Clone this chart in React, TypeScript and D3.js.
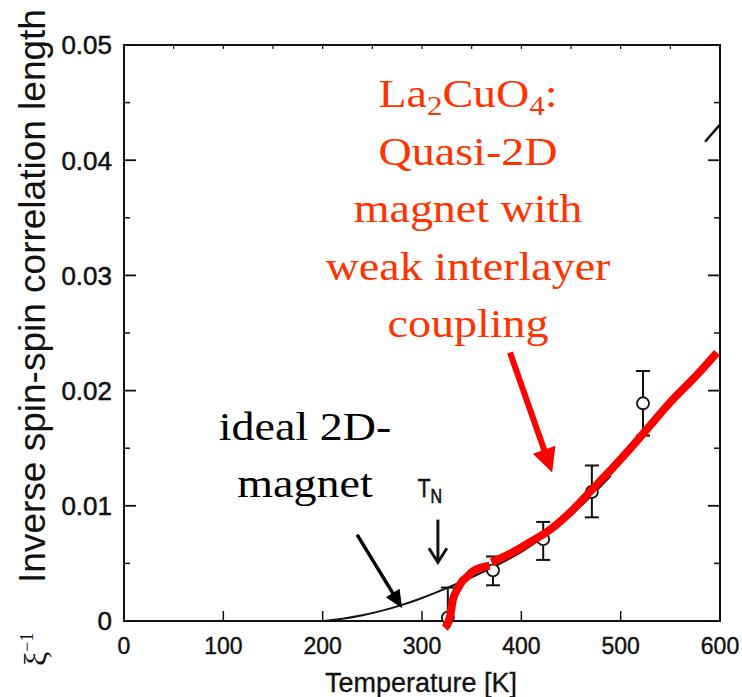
import React from "react";
import * as d3 from "d3";

// ---- data ----
const xTicks = [0, 100, 200, 300, 400, 500, 600];
const yTicks = [0, 0.01, 0.02, 0.03, 0.04, 0.05];
const yMinorTicks = [0.005, 0.015, 0.025, 0.035, 0.045];
const topTicks = [50, 100, 150, 200, 250, 300, 350, 400, 450, 500, 550];

const pointT = [326, 371.5, 422, 471, 522.5];
const pointV = [0.0003, 0.0044, 0.0071, 0.0112, 0.0189];
const errLow = [0.0, 0.0031, 0.0053, 0.009, 0.0161];
const errHigh = [0.0029, 0.0056, 0.0086, 0.0135, 0.0217];

const idealT = [200, 220, 240, 260, 280, 300, 326, 350, 372, 400, 422, 450, 472, 490];
const idealV = [0.0, 0.0002, 0.0005, 0.0009, 0.0014, 0.002, 0.0029, 0.0038, 0.0047, 0.006, 0.0073, 0.0092, 0.011, 0.0126];

const upperT = [585, 600];
const upperV = [0.0416, 0.0431];

const redT1 = [323, 328, 331, 336, 340, 345, 351, 358, 368];
const redV1 = [-0.0006, 0.0003, 0.0018, 0.0028, 0.0034, 0.0038, 0.0043, 0.0046, 0.0048];
const redT2 = [370, 390, 410, 430, 450, 470, 490, 510, 530, 550, 575, 597];
const redV2 = [0.0051, 0.0059, 0.0069, 0.008, 0.0095, 0.0113, 0.0131, 0.015, 0.017, 0.019, 0.0212, 0.0233];

const redLines = ["La", "Quasi-2D", "magnet with", "weak interlayer", "coupling"];
const blackLines = ["ideal 2D-", "magnet"];

export default function App() {
  const W = 742, H = 697;
  const x = d3.scaleLinear().domain([0, 600]).range([124, 720]);
  const y = d3.scaleLinear().domain([0, 0.05]).range([621, 45]);
  const line = d3
    .line<[number, number]>()
    .x((d) => x(d[0]))
    .y((d) => y(d[1]))
    .curve(d3.curveMonotoneX);
  const zip = (a: number[], b: number[]) => a.map((t, i) => [t, b[i]] as [number, number]);

  const arrowHead = (x1: number, y1: number, x2: number, y2: number, len: number, hw: number) => {
    const dx = x2 - x1, dy = y2 - y1;
    const L = Math.hypot(dx, dy);
    const ux = dx / L, uy = dy / L;
    const bx = x2 - ux * len, by = y2 - uy * len;
    return `${x2},${y2} ${bx - uy * hw},${by + ux * hw} ${bx + uy * hw},${by - ux * hw}`;
  };

  // annotation arrows in data space
  const ra = { x1: x(388.6), y1: y(0.0233), x2: x(431), y2: y(0.0129) };
  const ba = { x1: x(234.6), y1: y(0.0075), x2: x(280), y2: y(0.0011) };
  const tn = { x: x(316), y1: y(0.0088), y2: y(0.0051) };

  const shorten = (a: { x1: number; y1: number; x2: number; y2: number }, s: number) => {
    const dx = a.x2 - a.x1, dy = a.y2 - a.y1;
    const L = Math.hypot(dx, dy);
    return { x: a.x2 - (dx / L) * s, y: a.y2 - (dy / L) * s };
  };
  const raEnd = shorten(ra, 18);
  const baEnd = shorten(ba, 12);

  const left = x(0), right = x(600), top = y(0.05), bottom = y(0);
  const sans = "Liberation Sans, Arial, sans-serif";

  return (
    <svg width={W} height={H} style={{ display: "block", position: "absolute", left: 0, top: 0, background: "#fff" }}>
      <defs>
        <clipPath id="plot">
          <rect x={left} y={top} width={right - left} height={bottom - top + 12} />
        </clipPath>
      </defs>
      {/* frame */}
      <rect x={left} y={top} width={right - left} height={bottom - top} fill="none" stroke="#111" strokeWidth={2} />
      {/* y ticks */}
      {yTicks.map((t) => (
        <g key={"y" + t}>
          <line x1={left} x2={left + 12} y1={y(t)} y2={y(t)} stroke="#111" strokeWidth={1.8} />
          <line x1={right} x2={right - 12} y1={y(t)} y2={y(t)} stroke="#111" strokeWidth={1.8} />
          <text x={112} y={y(t)} dy="0.36em" textAnchor="end" fontFamily={sans} fontSize={26} fill="#111" stroke="#111" strokeWidth={0.5}>
            {t === 0 ? "0" : t.toFixed(2)}
          </text>
        </g>
      ))}
      {yMinorTicks.map((t) => (
        <g key={"ym" + t}>
          <line x1={left} x2={left + 6} y1={y(t)} y2={y(t)} stroke="#111" strokeWidth={1.5} />
          <line x1={right} x2={right - 6} y1={y(t)} y2={y(t)} stroke="#111" strokeWidth={1.5} />
        </g>
      ))}
      {/* x ticks */}
      {xTicks.map((t) => (
        <g key={"x" + t}>
          <line x1={x(t)} x2={x(t)} y1={bottom} y2={bottom - 10} stroke="#111" strokeWidth={1.5} />
          <text x={x(t)} y={654} textAnchor="middle" fontFamily={sans} fontSize={23} fill="#111" stroke="#111" strokeWidth={0.4}>
            {t}
          </text>
        </g>
      ))}
      {topTicks.map((t) => (
        <line key={"tt" + t} x1={x(t)} x2={x(t)} y1={top} y2={top + 4} stroke="#111" strokeWidth={1.2} />
      ))}
      <text x={421} y={692} textAnchor="middle" fontFamily={sans} fontSize={27} fill="#111" stroke="#111" strokeWidth={0.3}>
        Temperature [K]
      </text>
      {/* y title */}
      <text
        transform={`translate(45,296) rotate(-90)`}
        textAnchor="middle"
        fontFamily={sans}
        fontSize={37}
        fill="#111"
      >
        Inverse spin-spin correlation length
      </text>
      <text transform={`translate(46,666) rotate(-90)`} fontFamily="Liberation Serif, Times New Roman, serif" fontSize={32} fill="#111">
        ξ<tspan fontSize={18} dy={-13}>−1</tspan>
      </text>

      <g clipPath="url(#plot)">
        {/* ideal 2D curve */}
        <path d={line(zip(idealT, idealV)) || ""} fill="none" stroke="#111" strokeWidth={2} />
        <path d={line(zip(upperT, upperV)) || ""} fill="none" stroke="#111" strokeWidth={2.5} />
        {/* data points */}
        {pointT.map((t, i) => (
          <g key={"p" + i}>
            <line x1={x(t)} x2={x(t)} y1={y(errLow[i])} y2={y(errHigh[i])} stroke="#111" strokeWidth={2} />
            <line x1={x(t) - 7} x2={x(t) + 7} y1={y(errHigh[i])} y2={y(errHigh[i])} stroke="#111" strokeWidth={2} />
            {i > 0 && <line x1={x(t) - 7} x2={x(t) + 7} y1={y(errLow[i])} y2={y(errLow[i])} stroke="#111" strokeWidth={2} />}
            <circle cx={x(t)} cy={y(pointV[i])} r={6} fill="#fff" stroke="#111" strokeWidth={1.8} />
          </g>
        ))}
      </g>
      {/* red curves */}
      <path d={line(zip(redT1, redV1)) || ""} fill="none" stroke="#ff0000" strokeWidth={8} />
      <path d={line(zip(redT2, redV2)) || ""} fill="none" stroke="#ff0000" strokeWidth={8} />

      {/* TN arrow */}
      <g transform={`translate(${tn.x - 8},497) scale(0.8,1)`}>
        <text textAnchor="middle" fontFamily={sans} fontSize={26} fill="#111" stroke="#111" strokeWidth={0.6}>
          T<tspan fontSize={20} dy={6}>N</tspan>
        </text>
      </g>
      <line x1={tn.x} x2={tn.x} y1={tn.y1} y2={tn.y2} stroke="#111" strokeWidth={3} />
      <polyline points={`${tn.x - 9},${tn.y2 - 14} ${tn.x},${tn.y2} ${tn.x + 9},${tn.y2 - 14}`} fill="none" stroke="#111" strokeWidth={3} />

      {/* black annotation */}
      <line x1={ba.x1} y1={ba.y1} x2={baEnd.x} y2={baEnd.y} stroke="#000" strokeWidth={3.5} />
      <polygon points={arrowHead(ba.x1, ba.y1, ba.x2, ba.y2, 18, 8)} fill="#000" />
      <g fontFamily="Liberation Serif, Times New Roman, serif" fontSize={40} fill="#000" textAnchor="middle">
        {blackLines.map((s, i) => (
          <text key={s} transform={`translate(305,${440 + i * 57}) scale(1.15,1)`}>
            {s}
          </text>
        ))}
      </g>

      {/* red annotation */}
      <line x1={ra.x1} y1={ra.y1} x2={raEnd.x} y2={raEnd.y} stroke="#ff0000" strokeWidth={6} />
      <polygon points={arrowHead(ra.x1, ra.y1, ra.x2, ra.y2, 24, 12)} fill="#ff0000" />
      <g fontFamily="Liberation Serif, Times New Roman, serif" fontSize={40} fill="#ff3300" textAnchor="middle">
        {redLines.map((s, i) => (
          <text key={s} transform={`translate(468,${107 + i * 57.5}) scale(1.15,1)`}>
            {i === 0 ? (
              <>
                La<tspan fontSize={27} dy={8}>2</tspan>
                <tspan dy={-8}>CuO</tspan>
                <tspan fontSize={27} dy={8}>4</tspan>
                <tspan dy={-8}>:</tspan>
              </>
            ) : (
              s
            )}
          </text>
        ))}
      </g>
    </svg>
  );
}
